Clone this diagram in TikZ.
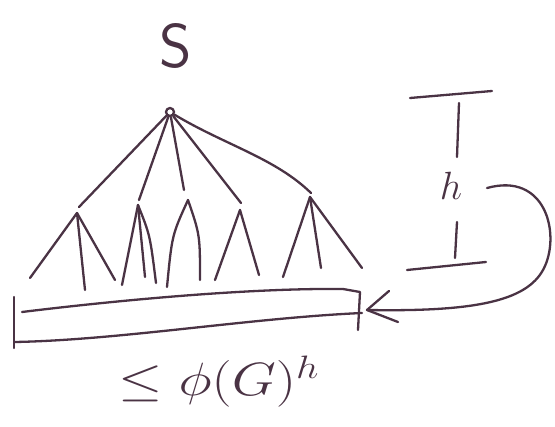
\documentclass[tikz,border=0pt]{standalone}
\usetikzlibrary{arrows.meta}
\definecolor{ink}{HTML}{4A3344}
\begin{document}
\begin{tikzpicture}[x=1pt,y=-1pt,
  pen/.style={draw=ink,line width=2.3pt,line cap=round,line join=round},
  lbl/.style={text=ink,inner sep=0pt}]
\useasboundingbox (0,0) rectangle (555,427);
% label S and root
\node[lbl,font=\fontsize{62}{62}\selectfont\sffamily] (slabel) at (176,46) {S};
\node[pen,circle,minimum size=8pt,inner sep=0pt] (s) at (170,112) {};
% level-1 apexes
\coordinate (a1) at (79,207);
\coordinate (a2) at (139,200);
\coordinate (a3) at (184,190);
\coordinate (a4) at (241,203);
\coordinate (a5) at (311,193);
% root edges
\draw[pen] (s) -- (a1);
\draw[pen] (s) -- (a2);
\draw[pen] (s) -- (a3);
\draw[pen] (s) -- (a4);
\draw[pen] (s) .. controls (225,145) and (275,158) .. (a5);
% subtree apexes
\coordinate (b1) at (77,213);
\coordinate (b2) at (138,205);
\coordinate (b3) at (188,200);
\coordinate (b4) at (240,210);
\coordinate (b5) at (310,197);
% leaves
\coordinate (l11) at (30,278);
\coordinate (l12) at (85,290);
\coordinate (l13) at (115,280);
\coordinate (l21) at (122,285);
\coordinate (l22) at (145,277);
\coordinate (l23) at (156,283);
\coordinate (l31) at (167,287);
\coordinate (l32) at (200,280);
\coordinate (l41) at (215,280);
\coordinate (l42) at (259,275);
\coordinate (l51) at (283,277);
\coordinate (l52) at (321,268);
\coordinate (l53) at (362,268);
\draw[pen] (b1) -- (l11);
\draw[pen] (b1) -- (l12);
\draw[pen] (b1) -- (l13);
\draw[pen] (b2) -- (l21);
\draw[pen] (b2) -- (l22);
\draw[pen] (b2) .. controls (150,235) .. (l23);
\draw[pen] (b3) .. controls (172,235) .. (l31);
\draw[pen] (b3) .. controls (200,235) .. (l32);
\draw[pen] (b4) -- (l41);
\draw[pen] (b4) -- (l42);
\draw[pen] (b5) -- (l51);
\draw[pen] (b5) -- (l52);
\draw[pen] (b5) -- (l53);
% bar
\coordinate (barTL) at (14,297);
\coordinate (barBL) at (14,348);
\coordinate (tl) at (22,312);
\coordinate (tr) at (343,289);
\coordinate (tre) at (360,292);
\coordinate (trb) at (358,330);
\coordinate (bl) at (15,342);
\coordinate (br) at (362,313);
\draw[pen] (barTL) -- (barBL);
\draw[pen] (tl) .. controls (120,300) and (250,288) .. (tr) -- (tre) -- (trb);
\draw[pen] (bl) .. controls (120,340) and (250,318) .. (br);
% bottom label
\node[lbl,font=\huge] (bound) at (219,382) {\scalebox{2.75}[2.25]{$\leq \phi(G)^{h}$}};
% height marker
\coordinate (ht1) at (410,98);
\coordinate (ht2) at (492,91);
\coordinate (hv1) at (459,103);
\coordinate (hv2) at (457,157);
\node[lbl,font=\huge] (h) at (451,186) {\scalebox{1.9}{$h$}};
\coordinate (hv3) at (457,222);
\coordinate (hv4) at (455,258);
\coordinate (hb1) at (407,270);
\coordinate (hb2) at (486,262);
\draw[pen] (ht1) -- (ht2);
\draw[pen] (hv1) -- (hv2);
\draw[pen] (hv3) -- (hv4);
\draw[pen] (hb1) -- (hb2);
% curved arrow
\coordinate (cs) at (487,188);
\coordinate (ce) at (367,310);
\draw[pen] (cs) .. controls (545,172) and (560,232) .. (545,266)
  .. controls (530,300) and (480,312) .. (ce);
\coordinate (ah1) at (389,291);
\coordinate (ah2) at (398,322);
\draw[pen] (ah1) -- (ce) -- (ah2);
\end{tikzpicture}
\end{document}
